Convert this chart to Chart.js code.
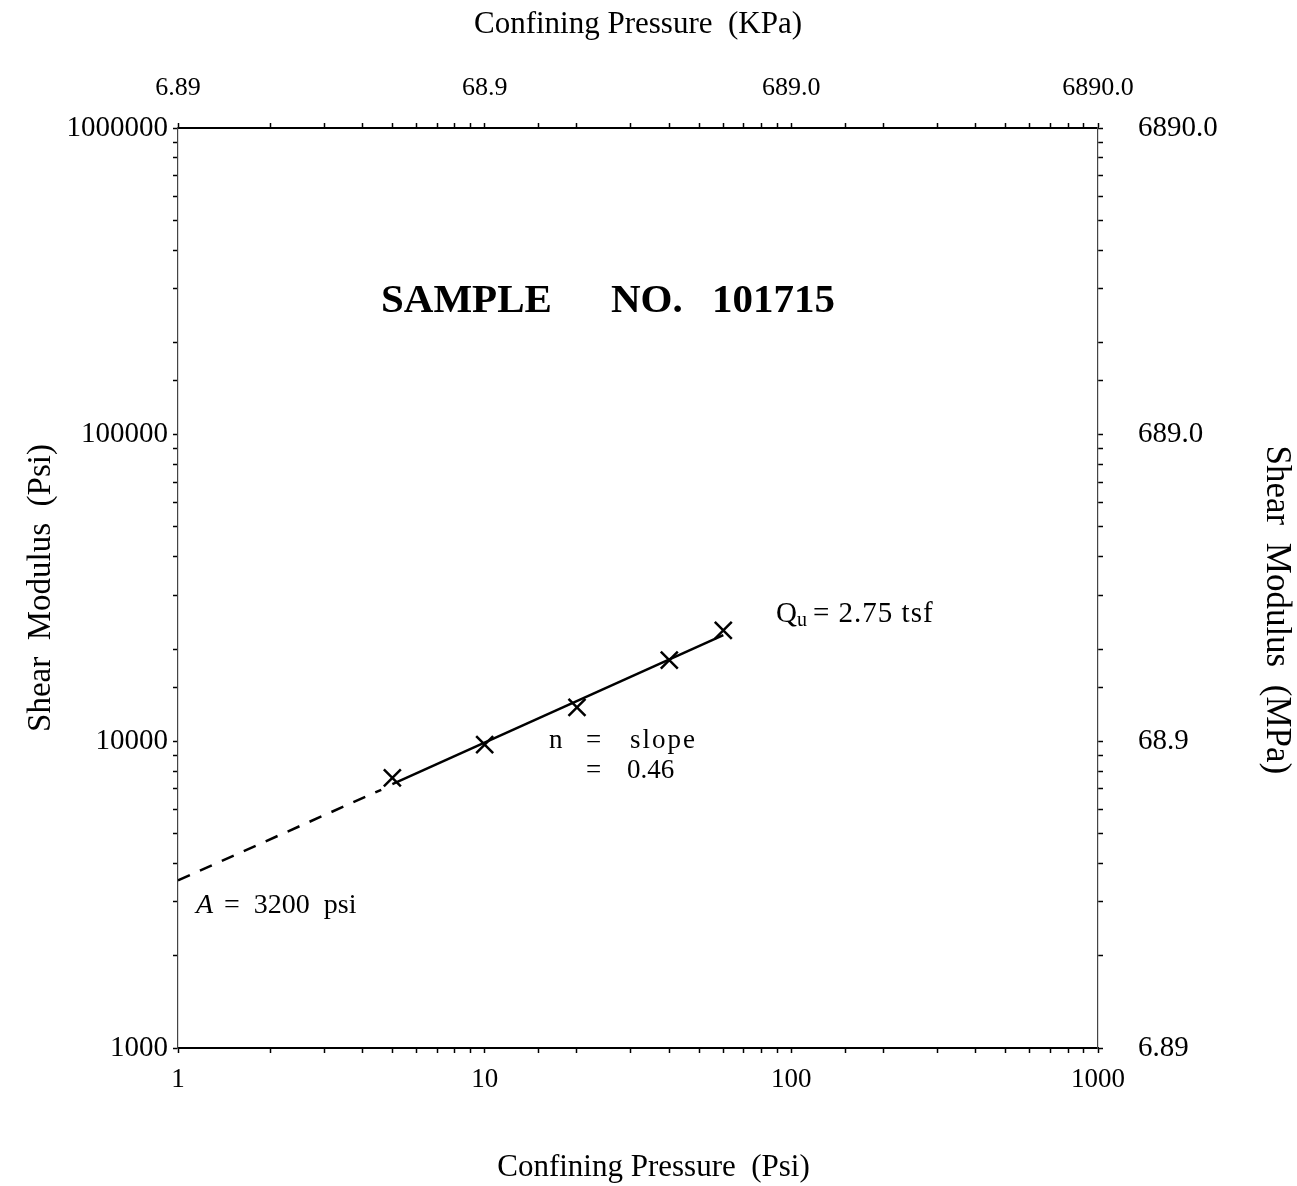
<!DOCTYPE html>
<html>
<head>
<meta charset="utf-8">
<script src="https://cdn.jsdelivr.net/npm/chart.js@4/dist/chart.umd.min.js"></script>
<style>
  html, body { margin: 0; padding: 0; background: #fff; }
  canvas { display: block; }
</style>
</head>
<body>
<canvas id="shearChart" width="1297" height="1186"></canvas>
<script>
// measured shear modulus vs confining pressure
const pressurePsi = [5, 10, 20, 40, 60];
const shearModulusPsi = [7600, 9750, 12900, 18400, 23000];

// fitted power line (solid over the tested range, dashed back to 1 psi)
const fitSolidPsi = [5, 60];
const fitSolidModulus = [7250, 22200];
const fitDashedPsi = [1, 4.6];
const fitDashedModulus = [3520, 6950];

// axis decades and their labels
const psiDecades = [1, 10, 100, 1000];
const psiLabels = ["1", "10", "100", "1000"];
const kpaLabels = ["6.89", "68.9", "689.0", "6890.0"];
const modulusDecades = [1000, 10000, 100000, 1000000];
const modulusLabels = ["1000", "10000", "100000", "1000000"];
const mpaLabels = ["6.89", "68.9", "689.0", "6890.0"];

const SERIF = "'Liberation Serif', 'Times New Roman', serif";

function decadeLabel(decades, labels) {
    return function (value) {
        const i = decades.findIndex(d => Math.abs(d - value) / d < 1e-6);
        return i >= 0 ? labels[i] : "";
    };
}

function toXY(xs, ys) {
    return xs.map((x, i) => ({ x: x, y: ys[i] }));
}

function logAxis(opts) {
    return {
        type: "logarithmic",
        position: opts.position,
        min: opts.min,
        max: opts.max,
        afterFit: opts.afterFit,
        ticks: {
            autoSkip: false,
            maxRotation: 0,
            color: "#000",
            padding: opts.padding,
            font: { family: SERIF, size: opts.tickSize },
            callback: decadeLabel(opts.decades, opts.labels),
        },
        grid: {
            drawOnChartArea: false,
            drawTicks: true,
            tickLength: 5,
            tickWidth: 1.5,
            tickColor: "#000",
        },
        border: opts.border,
        title: {
            display: true,
            text: opts.title,
            color: "#000",
            font: { family: SERIF, size: opts.titleSize },
            padding: opts.titlePadding,
        },
    };
}

// free text on the plot
const notesPlugin = {
    id: "notes",
    afterDraw(chart) {
        const ctx = chart.ctx;
        ctx.save();
        ctx.fillStyle = "#000";
        ctx.textBaseline = "middle";
        ctx.textAlign = "left";

        ctx.font = "bold 41px " + SERIF;
        ctx.fillText("SAMPLE", 381, 301);
        ctx.fillText("NO.", 611, 301);
        ctx.fillText("101715", 712, 301);

        // slope note
        ctx.font = "27px " + SERIF;
        ctx.fillText("n", 549, 741);
        ctx.fillText("=", 586, 741);
        ctx.letterSpacing = "2px";
        ctx.fillText("slope", 630, 741);
        ctx.letterSpacing = "0px";
        ctx.fillText("=", 586, 771);
        ctx.fillText("0.46", 627, 771);

        ctx.font = "29px " + SERIF;
        ctx.fillText("Q", 776, 614);
        ctx.font = "20px " + SERIF;
        ctx.fillText("u", 797, 621);
        ctx.font = "29px " + SERIF;
        ctx.letterSpacing = "1px";
        ctx.fillText("= 2.75 tsf", 813, 614);
        ctx.letterSpacing = "0px";

        ctx.font = "italic 28px " + SERIF;
        ctx.fillText("A", 196, 906);
        ctx.font = "28px " + SERIF;
        ctx.fillText("=  3200  psi", 224, 906);
        ctx.restore();
    },
};

new Chart(document.getElementById("shearChart").getContext("2d"), {
    type: "scatter",
    data: {
        datasets: [
            {
                label: "Measured",
                data: toXY(pressurePsi, shearModulusPsi),
                pointStyle: "crossRot",
                pointRadius: 12,
                borderColor: "#000",
                borderWidth: 2.5,
                showLine: false,
            },
            {
                label: "Fit",
                data: toXY(fitSolidPsi, fitSolidModulus),
                showLine: true,
                borderColor: "#000",
                borderWidth: 2.5,
                pointRadius: 0,
            },
            {
                label: "Fit extrapolated",
                data: toXY(fitDashedPsi, fitDashedModulus),
                showLine: true,
                borderColor: "#000",
                borderWidth: 2.5,
                borderDash: [13, 11],
                pointRadius: 0,
            },
        ],
    },
    options: {
        responsive: false,
        animation: false,
        layout: { padding: 0 },
        plugins: {
            legend: { display: false },
            tooltip: { enabled: false },
        },
        scales: {
            x: logAxis({
                position: "bottom", min: 1, max: 1000,
                decades: psiDecades, labels: psiLabels,
                tickSize: 27, padding: 11,
                afterFit: s => { s.height = 138; },
                border: { color: "#000", width: 2 },
                title: "    Confining Pressure  (Psi)",
                titleSize: 31,
                titlePadding: { top: 0, bottom: 0 },
            }),
            x2: logAxis({
                position: "top", min: 1, max: 1000,
                decades: psiDecades, labels: kpaLabels,
                tickSize: 26, padding: 19,
                afterFit: s => { s.height = 128; },
                border: { color: "#000", width: 2 },
                title: "Confining Pressure  (KPa)",
                titleSize: 31,
                titlePadding: { top: 6, bottom: 0 },
            }),
            y: logAxis({
                position: "left", min: 1000, max: 1000000,
                decades: modulusDecades, labels: modulusLabels,
                tickSize: 29, padding: 5,
                afterFit: s => { s.width = 178; },
                border: { color: "#444", width: 1.2, dash: [3, 3] },
                title: "Shear  Modulus  (Psi)",
                titleSize: 33,
                titlePadding: { top: 22, bottom: 0 },
            }),
            y2: logAxis({
                position: "right", min: 1000, max: 1000000,
                decades: modulusDecades, labels: mpaLabels,
                tickSize: 29, padding: 35,
                afterFit: s => { s.width = 199; },
                border: { color: "#444", width: 1.2, dash: [3, 3] },
                title: "     Shear  Modulus  (MPa)",
                titleSize: 35,
                titlePadding: { top: 0, bottom: 8 },
            }),
        },
    },
    plugins: [notesPlugin],
});
</script>
</body>
</html>
